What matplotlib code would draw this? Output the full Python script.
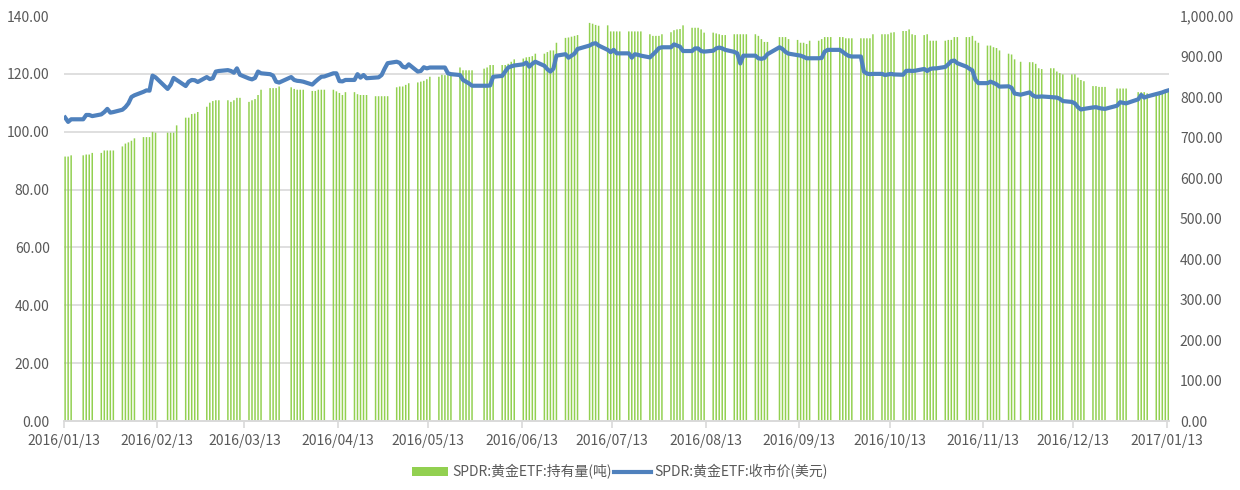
import matplotlib
matplotlib.use("Agg")
import matplotlib.pyplot as plt
import matplotlib.dates as mdates
from matplotlib.ticker import FuncFormatter
import numpy as np
import pandas as pd

plt.rcParams['font.family'] = ['Noto Sans CJK SC', 'DejaVu Sans']

# NYSE holidays inside the range (no SPDR data on these days)
holidays = ['2016-01-18', '2016-02-15', '2016-03-25', '2016-05-30', '2016-07-04',
            '2016-09-05', '2016-11-24', '2016-12-26', '2017-01-02']
dates = pd.bdate_range('2016-01-13', '2017-01-13', freq='C', holidays=holidays)

# SPDR gold holdings (tonnes), one value per trading day, week by week
holdings = [
    653, 653, 656,
    656, 658, 658, 662,
    662, 668, 668, 668, 668,
    678, 685, 688, 692, 698,
    701, 701, 701, 714, 712,
    712, 712, 712, 730,
    749, 749, 758, 759, 763,
    776, 786, 790, 792, 792,
    792, 788, 792, 798, 798,
    788, 792, 795, 805, 818,
    822, 822, 822, 826,
    824, 820, 818, 818, 818,
    815, 815, 818, 818, 818,
    818, 814, 810, 805, 812,
    812, 807, 805, 805, 805,
    802, 802, 802, 802, 802,
    824, 826, 826, 830, 834,
    836, 838, 840, 844, 850,
    850, 855, 854, 854, 854,
    873, 866, 866, 866, 866,
    870, 873, 879, 879,
    879, 879, 882, 887, 893,
    895, 898, 899, 901, 907,
    907, 911, 915, 915, 934,
    946, 947, 949, 951, 953,
    983, 981, 978, 976,
    977, 962, 962, 962, 962,
    962, 962, 962, 962, 962,
    955, 951, 951, 951, 955,
    960, 965, 967, 968, 977,
    971, 971, 971, 967, 959,
    959, 957, 955, 953, 953,
    955, 955, 955, 955, 955,
    955, 951, 943, 936, 936,
    948, 948, 948, 943,
    941, 934, 934, 931, 939,
    939, 943, 948, 948, 948,
    948, 948, 945, 945, 945,
    945, 945, 945, 945, 955,
    955, 955, 955, 959, 960,
    963, 963, 967, 955, 953,
    953, 955, 939, 939, 939,
    939, 941, 941, 948, 948,
    948, 948, 951, 939, 934,
    927, 927, 923, 921, 915,
    907, 905, 893, 887,
    886, 886, 882, 871, 869,
    871, 871, 863, 859, 856,
    856, 856, 848, 842, 839,
    827, 827, 825, 825, 825,
    821, 821, 821, 821,
    812, 812, 812, 809,
    805, 805, 809, 810, 812,
]

# SPDR gold ETF closing price (USD)
close_price = [
    104.9, 103.4, 104.3,
    104.3, 105.8, 105.8, 105.4,
    106.0, 106.8, 107.9, 106.6, 106.8,
    107.6, 108.5, 109.8, 112.0, 112.6,
    113.8, 114.3, 114.2, 119.4, 118.8,
    114.8, 116.2, 118.6, 117.9,
    115.8, 117.3, 117.9, 117.8, 117.2,
    118.9, 118.2, 118.5, 120.8, 121.0,
    121.3, 121.0, 120.4, 121.9, 119.7,
    118.4, 118.1, 118.6, 120.8, 120.2,
    119.9, 119.4, 117.3, 117.0,
    118.9, 117.9, 117.6, 117.5, 117.3,
    116.3, 117.3, 118.2, 119.0, 119.1,
    120.2, 120.2, 117.5, 117.4, 117.9,
    117.9, 119.9, 118.7, 119.6, 118.5,
    118.7, 118.8, 119.6, 121.8, 123.7,
    124.2, 123.8, 122.5, 122.2, 123.3,
    120.8, 121.0, 122.3, 121.9, 122.2,
    122.2, 122.2, 122.2, 120.2, 119.9,
    119.6, 117.9, 117.3, 116.7, 115.9,
    115.9, 115.9, 116.0, 119.0,
    119.3, 120.8, 122.2, 122.6, 122.9,
    123.3, 123.9, 122.5, 123.5, 124.2,
    122.8, 121.6, 120.8, 121.8, 126.3,
    126.8, 125.6, 126.3, 127.0, 128.6,
    129.8, 130.4, 130.6, 129.8,
    128.3, 127.5, 128.3, 127.1, 127.1,
    127.1, 125.6, 126.8, 126.6, 126.3,
    125.7, 126.7, 127.7, 128.9, 129.2,
    129.2, 130.2, 129.8, 129.4, 127.9,
    127.9, 128.8, 128.8, 127.9, 127.7,
    128.0, 128.8, 129.1, 128.8, 128.3,
    127.6, 127.1, 123.6, 126.3, 126.3,
    126.3, 125.4, 125.2, 125.5, 126.8,
    129.2, 128.6, 127.6, 127.0,
    126.5, 126.3, 125.9, 125.4, 125.4,
    125.4, 125.5, 127.7, 128.3, 128.3,
    128.3, 127.6, 126.8, 126.2, 126.0,
    126.0, 120.8, 120.1, 119.9, 120.0,
    120.0, 119.6, 119.8, 120.0, 119.8,
    119.7, 121.0, 121.1, 121.0, 121.1,
    121.7, 121.0, 121.7, 121.9, 121.9,
    122.4, 123.3, 124.4, 124.6, 123.7,
    122.5, 121.8, 121.2, 118.0, 116.8,
    116.8, 117.3, 116.9, 116.4, 115.6,
    115.7, 115.2, 113.2, 112.8,
    113.6, 112.6, 112.1, 112.1, 112.2,
    112.0, 111.9, 111.8, 111.4, 110.6,
    110.3, 109.8, 108.5, 107.7, 107.9,
    108.4, 108.5, 108.2, 108.0, 107.9,
    109.0, 110.2, 110.0, 109.8,
    111.2, 112.7, 111.8, 112.2,
    113.0, 113.3, 113.6, 114.0, 114.3,
]

bar_label = 'SPDR:黄金ETF:持有量(吨)'
line_label = 'SPDR:黄金ETF:收市价(美元)'

grey = '#595959'
grid_c = '#d9d9d9'

fig = plt.figure(figsize=(12.4, 4.9), dpi=100)
ax = fig.add_axes([0.0513, 0.1408, 0.8913, 0.8265])   # bars, right scale
ax2 = ax.twinx()                                        # line, left scale

x = dates + pd.Timedelta(hours=12)
ax.bar(x, holdings, width=0.5, color='#92D050', linewidth=0, snap=False,
       label=bar_label, zorder=2)
ax2.plot(x, close_price, color='#4F81BD', lw=3, label=line_label, zorder=3)

ax.set_ylim(0, 1000)
ax2.set_ylim(0, 140)
ax.set_xlim(pd.Timestamp('2016-01-13'), pd.Timestamp('2017-01-13 16:00'))

# bar axis on the right, price axis on the left
ax.yaxis.tick_right()
ax2.yaxis.tick_left()
ax.set_yticks(np.arange(0, 1001, 100))
ax2.set_yticks(np.arange(0, 141, 20))
ax.yaxis.set_major_formatter(FuncFormatter(lambda v, p: '{:,.2f}'.format(v)))
ax2.yaxis.set_major_formatter(FuncFormatter(lambda v, p: '{:.2f}'.format(v)))

# gridlines follow the left-hand ticks but sit behind the bars
ax.set_yticks(np.linspace(0, 1000, 8), minor=True)
ax.grid(True, which='minor', axis='y', color=grid_c, lw=1.2, zorder=0)
ax.set_axisbelow(True)
ax.tick_params(axis='y', which='minor', length=0)

ax.xaxis.set_major_locator(mdates.MonthLocator(bymonthday=13))
ax.xaxis.set_major_formatter(mdates.DateFormatter('%Y/%m/%d'))

for a in (ax, ax2):
    for s in ['top', 'left', 'right']:
        a.spines[s].set_visible(False)
    a.spines['bottom'].set_color(grid_c)
    a.spines['bottom'].set_linewidth(1.2)
ax.tick_params(axis='x', colors=grid_c, length=5, width=1.2, labelcolor=grey,
               labelsize=10, pad=4)
ax.tick_params(axis='y', which='major', length=0, labelcolor=grey, labelsize=10, pad=8)
ax2.tick_params(axis='y', length=0, labelcolor=grey, labelsize=10, pad=10)

h1, l1 = ax.get_legend_handles_labels()
h2, l2 = ax2.get_legend_handles_labels()
fig.legend(h1 + h2, l1 + l2, loc='center', bbox_to_anchor=(0.5, 0.037), ncol=2,
           frameon=False, fontsize=10, labelcolor=grey, handlelength=2.6,
           handletextpad=0.3, columnspacing=0.2)

fig.savefig('out.png', dpi=100)
